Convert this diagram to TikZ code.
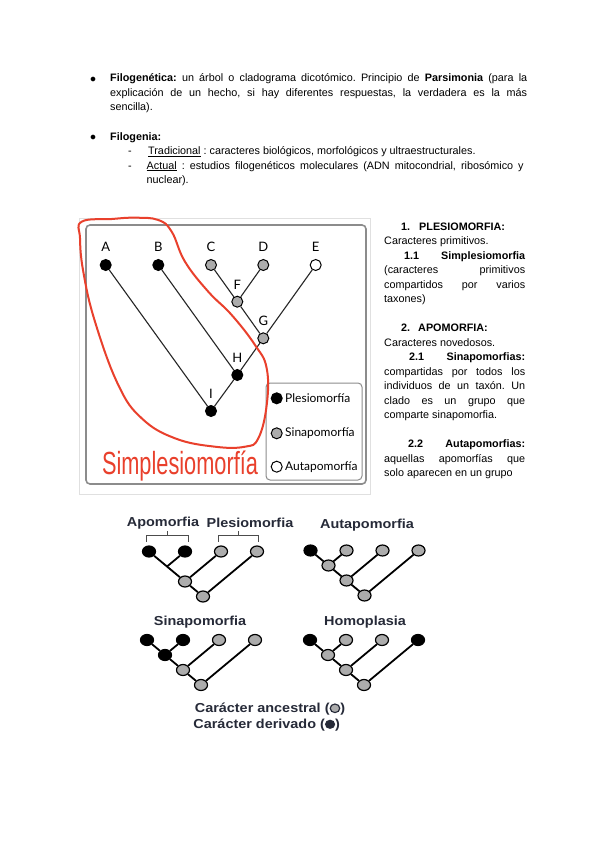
\documentclass[tikz,border=0pt]{standalone}
\usepackage{fontspec}
\setmainfont{Liberation Sans}
\newfontfamily\figfont{Lato}
\usepackage{tikz}
\usetikzlibrary{shapes.geometric, positioning}
\definecolor{markred}{RGB}{233,64,44}
\definecolor{nodegray}{RGB}{172,172,172}
\definecolor{titleink}{RGB}{38,42,56}
\newcommand{\widetxt}[1]{\scalebox{1.11}[1]{#1}}
\frenchspacing

\begin{document}
\begin{tikzpicture}[x=1pt, y=-1pt,
    txt/.style={anchor=base west, inner sep=0pt, font=\fontsize{10.8}{14.5}\selectfont},
    btxt/.style={txt, font=\fontsize{10.8}{14.5}\selectfont\bfseries},
    dot/.style={anchor=base, inner sep=0pt, font=\fontsize{13}{14}\selectfont},
    taxon/.style={circle, draw=black, line width=1pt, minimum size=11pt, inner sep=0pt},
    pl/.style={taxon, fill=black},
    sin/.style={taxon, fill=nodegray},
    aut/.style={taxon, fill=white},
    lbl/.style={font=\figfont\fontsize{13}{13}\selectfont, inner sep=1pt},
    lgd/.style={anchor=west, inner sep=0pt, font=\figfont\fontsize{12}{12}\selectfont},
    branch/.style={line width=1.1pt, draw=black!85},
    tip/.style={ellipse, draw=black, line width=1.2pt, minimum width=13pt, minimum height=11pt, inner sep=0pt},
    anc/.style={tip, fill=nodegray},
    der/.style={tip, fill=black},
    clade/.style={line width=1.8pt},
    bracket/.style={line width=1pt, draw=black!70},
    ttl/.style={font=\fontsize{13}{14}\selectfont\bfseries, text=titleink}
]
    \useasboundingbox (0,0) rectangle (600,848);
    \fill[white] (0,0) rectangle (600,848);

    % Filogenetica
    \node (b1) [dot] at (93,82.5) {$\bullet$};
    \node (l1) [txt] at (110,82) {\makebox[417pt][s]{\textbf{Filogenética:} un árbol o cladograma dicotómico. Principio de \textbf{Parsimonia} (para la}};
    \node (l2) [txt] at (110,96.5) {\makebox[417pt][s]{explicación de un hecho, si hay diferentes respuestas, la verdadera es la más}};
    \node (l3) [txt] at (110,111) {sencilla).};

    % Filogenia
    \node (b2) [dot] at (93,140.5) {$\bullet$};
    \node (l4) [btxt] at (110,140) {Filogenia:};
    \node (d1) [txt] at (128,154.5) {-};
    \node (l5) [txt] at (148,154.5) {\underline{Tradicional} : caracteres biológicos, morfológicos y ultraestructurales.};
    \node (d2) [txt] at (128,169) {-};
    \node (l6) [txt] at (146.5,169) {\makebox[377pt][s]{\underline{Actual} : estudios filogenéticos moleculares (ADN mitocondrial, ribosómico y}};
    \node (l7) [txt] at (146.5,183.5) {nuclear).};

    % Cladogram picture frame
    \draw[black!12, line width=1pt] (79,218) rectangle (370,494);
    \draw[black!45, line width=1.6pt, rounded corners=4pt] (86,225) rectangle (366,484);

    % Taxa and internal nodes
    \node (A) [pl, label={[lbl, label distance=6pt]above:A}] at (105.7,265) {};
    \node (B) [pl, label={[lbl, label distance=6pt]above:B}] at (158.3,265) {};
    \node (C) [sin, label={[lbl, label distance=6pt]above:C}] at (211,265) {};
    \node (D) [sin, label={[lbl, label distance=6pt]above:D}] at (263.3,265) {};
    \node (E) [aut, label={[lbl, label distance=6pt]above:E}] at (315.7,265) {};
    \node (F) [sin, label={[lbl, label distance=5pt]above:F}] at (237.3,301.7) {};
    \node (G) [sin, label={[lbl, label distance=5pt]above:G}] at (263.3,338.3) {};
    \node (H) [pl, label={[lbl, label distance=5pt]above:H}] at (237.3,375) {};
    \node (I) [pl, label={[lbl, label distance=5pt]above:I}] at (211,411) {};

    \draw [branch] (A) -- (I);
    \draw [branch] (B) -- (H);
    \draw [branch] (H) -- (I);
    \draw [branch] (G) -- (H);
    \draw [branch] (E) -- (G);
    \draw [branch] (F) -- (G);
    \draw [branch] (C) -- (F);
    \draw [branch] (D) -- (F);

    % Legend
    \draw[black!45, line width=1pt, rounded corners=4pt] (266,383) rectangle (362,480);
    \node (kp) [pl] at (276.7,398.3) {};
    \node (kpt) [lgd] at (285,398.3) {Plesiomorfía};
    \node (ks) [sin] at (276.7,433.3) {};
    \node (kst) [lgd] at (285,433.3) {Sinapomorfía};
    \node (ka) [aut] at (276.7,466.7) {};
    \node (kat) [lgd] at (285,466.7) {Autapomorfía};

    % Red marking
    \node (simp) [font=\fontsize{32}{32}\selectfont, text=markred, inner sep=0pt] at (180,466) {\scalebox{0.68}[1]{Simplesiomorfía}};
    \draw[markred, line width=2pt] plot[smooth cycle, tension=0.7] coordinates {(81.7,221.7) (111.7,219) (135,217.7) (158.3,220) (171.7,231.7) (185,261.7) (208.3,291.7) (231.7,315) (255,345) (266.7,368.3) (266.7,405) (258.3,438.3) (245,446.7) (215,446.7) (175,438.3) (141.7,418.3) (118.3,385) (95,321.7) (83.3,271.7) (80,238.3)};

    % Right column
    \node (r1) [btxt] at (401,230) {\makebox[18pt][l]{1.}PLESIOMORFIA:};
    \node (r2) [txt] at (384,244.5) {Caracteres primitivos.};
    \node (r3) [btxt] at (404,259) {\makebox[121pt][s]{1.1 Simplesiomorfia}};
    \node (r4) [txt] at (384,273.5) {\makebox[141pt][s]{(caracteres primitivos}};
    \node (r5) [txt] at (384,288) {\makebox[141pt][s]{compartidos por varios}};
    \node (r6) [txt] at (384,302.5) {taxones)};
    \node (r7) [btxt] at (401,331.5) {\makebox[17pt][l]{2.}APOMORFIA:};
    \node (r8) [txt] at (384,346) {Caracteres novedosos.};
    \node (r9) [btxt] at (409,360.5) {\makebox[116pt][s]{2.1 Sinapomorfias:}};
    \node (r10) [txt] at (384,375) {\makebox[141pt][s]{compartidas por todos los}};
    \node (r11) [txt] at (384,389.5) {\makebox[141pt][s]{individuos de un taxón. Un}};
    \node (r12) [txt] at (384,404) {\makebox[141pt][s]{clado es un grupo que}};
    \node (r13) [txt] at (384,418.5) {comparte sinapomorfia.};
    \node (r14) [btxt] at (408,447.5) {\makebox[117pt][s]{2.2 Autapomorfias:}};
    \node (r15) [txt] at (384,462) {\makebox[141pt][s]{aquellas apomorfías que}};
    \node (r16) [txt] at (384,476.5) {solo aparecen en un grupo};

    % Titles of the four small trees
    \node (tapo) [ttl] at (163,523.3) {\widetxt{Apomorfia}};
    \node (tple) [ttl] at (250,523.3) {\widetxt{Plesiomorfia}};
    \node (taut) [ttl] at (367,525) {\widetxt{Autapomorfia}};
    \node (tsin) [ttl] at (200,621.7) {\widetxt{Sinapomorfia}};
    \node (thom) [ttl] at (365,621.7) {\widetxt{Homoplasia}};

    \draw[bracket] (146.7,541.5) -- (146.7,535) -- (188.3,535) -- (188.3,541.5);
    \draw[bracket] (167.5,535) -- (167.5,530.5);
    \draw[bracket] (218.3,541.5) -- (218.3,535) -- (258.3,535) -- (258.3,541.5);
    \draw[bracket] (238.3,535) -- (238.3,530.5);

    % Apomorfia / Plesiomorfia
    \node (a1) [der] at (149,551.5) {};
    \node (a2) [der] at (185,551.5) {};
    \node (a3) [anc] at (221,551.5) {};
    \node (a4) [anc] at (257,551.5) {};
    \coordinate (aj) at (167,566.5);
    \node (an) [anc] at (185,581.5) {};
    \node (ar) [anc] at (203,596.5) {};
    \draw [clade] (a1) -- (an);
    \draw [clade] (an) -- (ar);
    \draw [clade] (a2) -- (aj);
    \draw [clade] (a3) -- (an);
    \draw [clade] (a4) -- (ar);

    % Autapomorfia
    \node (u1) [der] at (310.5,550.5) {};
    \node (u2) [anc] at (346.5,550.5) {};
    \node (u3) [anc] at (382.5,550.5) {};
    \node (u4) [anc] at (418.5,550.5) {};
    \node (un1) [anc] at (328.5,565.5) {};
    \node (un2) [anc] at (346.5,580.5) {};
    \node (ur) [anc] at (364.5,595.5) {};
    \draw [clade] (u1) -- (un1);
    \draw [clade] (un1) -- (un2);
    \draw [clade] (un2) -- (ur);
    \draw [clade] (u2) -- (un1);
    \draw [clade] (u3) -- (un2);
    \draw [clade] (u4) -- (ur);

    % Sinapomorfia
    \node (s1) [der] at (147,640) {};
    \node (s2) [der] at (183,640) {};
    \node (s3) [anc] at (219,640) {};
    \node (s4) [anc] at (255,640) {};
    \node (sn1) [der] at (165,655) {};
    \node (sn2) [anc] at (183,670) {};
    \node (sr) [anc] at (201,685) {};
    \draw [clade] (s1) -- (sn1);
    \draw [clade] (sn1) -- (sn2);
    \draw [clade] (sn2) -- (sr);
    \draw [clade] (s2) -- (sn1);
    \draw [clade] (s3) -- (sn2);
    \draw [clade] (s4) -- (sr);

    % Homoplasia
    \node (h1) [der] at (310,640) {};
    \node (h2) [anc] at (346,640) {};
    \node (h3) [anc] at (382,640) {};
    \node (h4) [der] at (418,640) {};
    \node (hn1) [anc] at (328,655) {};
    \node (hn2) [anc] at (346,670) {};
    \node (hr) [anc] at (364,685) {};
    \draw [clade] (h1) -- (hn1);
    \draw [clade] (hn1) -- (hn2);
    \draw [clade] (hn2) -- (hr);
    \draw [clade] (h2) -- (hn1);
    \draw [clade] (h3) -- (hn2);
    \draw [clade] (h4) -- (hr);

    % Key
    \node (kanc) [ttl] at (270,709) {\widetxt{Carácter ancestral (\tikz[baseline=-0.6ex]\draw[fill=nodegray, line width=1.1pt] (0,0) circle (4.3pt);)}};
    \node (kder) [ttl] at (266.7,725) {\widetxt{Carácter derivado (\tikz[baseline=-0.6ex]\fill (0,0) circle (4.6pt);)}};
\end{tikzpicture}
\end{document}
